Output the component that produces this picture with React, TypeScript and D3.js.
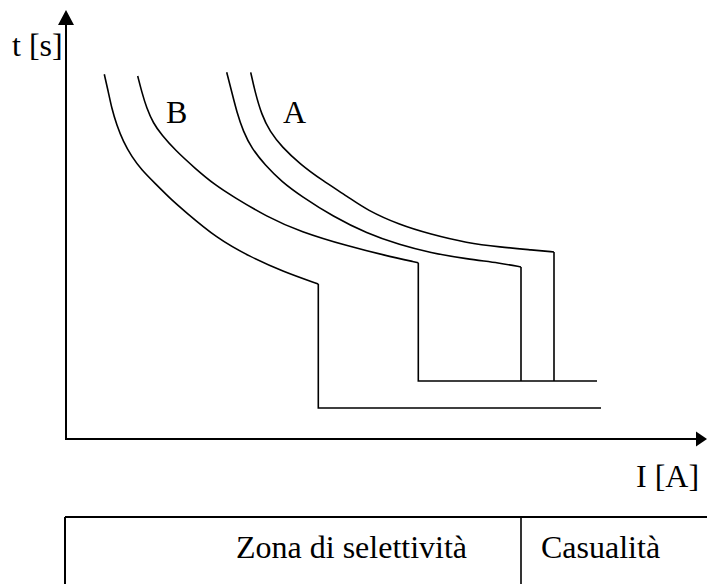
import React from "react";
import * as d3 from "d3";

// Schematic units: current I (horizontal), time t (vertical)
const curveB1: [number, number][] = [
  [38.3, 364.7], [42.3, 347.3], [45.7, 330.7], [50.7, 314], [57.3, 297.3], [65.7, 282.3],
  [75.7, 269], [89, 255.7], [105.7, 239], [117.3, 229], [150.7, 200.7], [184, 182.3],
  [217.3, 167.3], [252.3, 155],
];
const stepB1: [number, number][] = [[252.3, 155], [252.3, 31], [535, 31]];

const curveB2: [number, number][] = [
  [71.7, 363], [75.7, 347.3], [80.7, 330.7], [87.3, 315.7], [95.7, 304], [109, 289],
  [129, 270.7], [149, 254], [167.3, 242.3], [200.7, 222.3], [234, 207.3], [284, 192.3],
  [317.3, 184], [352.3, 176.3],
];
const stepB2: [number, number][] = [[352.3, 176.3], [352.3, 58], [531, 58]];

const curveA1: [number, number][] = [
  [160.7, 366.7], [165.7, 347.3], [170.7, 327.3], [177.3, 307.3], [185.7, 290.7], [199, 274],
  [215.7, 257.3], [235, 243], [267.3, 222.3], [300.7, 205.7], [334, 194], [364, 186.3],
  [401, 180], [434, 176], [455, 172],
];
const stepA1: [number, number][] = [[455, 172], [455, 58]];

const curveA2: [number, number][] = [
  [184.7, 366.7], [189, 347.3], [195.7, 324], [204, 307.3], [215.7, 292.3], [234, 275],
  [255.7, 259], [282.3, 242], [300.7, 229], [334, 214], [364, 205], [401, 196],
  [434, 192], [467, 189], [488, 187],
];
const stepA2: [number, number][] = [[488, 187], [488, 58]];

const curveLabels = [
  { text: "B", i: 100, t: 316 },
  { text: "A", i: 217, t: 316 },
];
const axisLabelT = "t [s]";
const axisLabelI = "I [A]";
const tableCells = ["Zona di selettività", "Casualità"];

const W = 707;
const H = 584;
const x = d3.scaleLinear().domain([0, 641]).range([66, 707]);
const y = d3.scaleLinear().domain([0, 430]).range([439, 9]);

const smooth = d3
  .line<[number, number]>()
  .x((d) => x(d[0]))
  .y((d) => y(d[1]))
  .curve(d3.curveBasis);
const straight = d3
  .line<[number, number]>()
  .x((d) => x(d[0]))
  .y((d) => y(d[1]));

const FONT = "'Liberation Serif', 'Times New Roman', serif";

export default function App() {
  const curves = [curveB1, curveB2, curveA1, curveA2];
  const steps = [stepB1, stepB2, stepA1, stepA2];
  const x0 = x(0);
  const y0 = y(0);
  return (
    <svg
      width={W}
      height={H}
      style={{ position: "absolute", left: 0, top: 0, background: "#fff" }}
    >
      <rect width={W} height={H} fill="#fff" />
      {/* axes */}
      <line x1={x0} y1={y0 + 0.5} x2={x0} y2={22} stroke="#000" strokeWidth={2} />
      <polygon points={`${x0},10 ${x0 - 8},25 ${x0 + 8},25`} fill="#000" />
      <line x1={x0 - 1} y1={y0} x2={698} y2={y0} stroke="#000" strokeWidth={2} />
      <polygon points={`707,${y0} 696,${y0 - 7.5} 696,${y0 + 7.5}`} fill="#000" />

      {curves.map((c, k) => (
        <path key={"c" + k} d={smooth(c) || ""} fill="none" stroke="#000" strokeWidth={1.6} />
      ))}
      {steps.map((s, k) => (
        <path key={"s" + k} d={straight(s) || ""} fill="none" stroke="#000" strokeWidth={1.6} />
      ))}

      <g fontFamily={FONT} fontSize={32} fill="#000">
        <text x={12} y={56}>{axisLabelT}</text>
        {curveLabels.map((l) => (
          <text key={l.text} x={x(l.i)} y={y(l.t)}>{l.text}</text>
        ))}
        <text x={636} y={487}>{axisLabelI}</text>
      </g>

      {/* table */}
      <line x1={65} y1={517} x2={707} y2={517} stroke="#000" strokeWidth={2} />
      <line x1={65} y1={517} x2={65} y2={584} stroke="#000" strokeWidth={2} />
      <line x1={521} y1={517} x2={521} y2={584} stroke="#000" strokeWidth={1.6} />
      <g fontFamily={FONT} fontSize={32} fill="#000">
        <text x={236} y={558}>{tableCells[0]}</text>
        <text x={541} y={558}>{tableCells[1]}</text>
      </g>
    </svg>
  );
}
